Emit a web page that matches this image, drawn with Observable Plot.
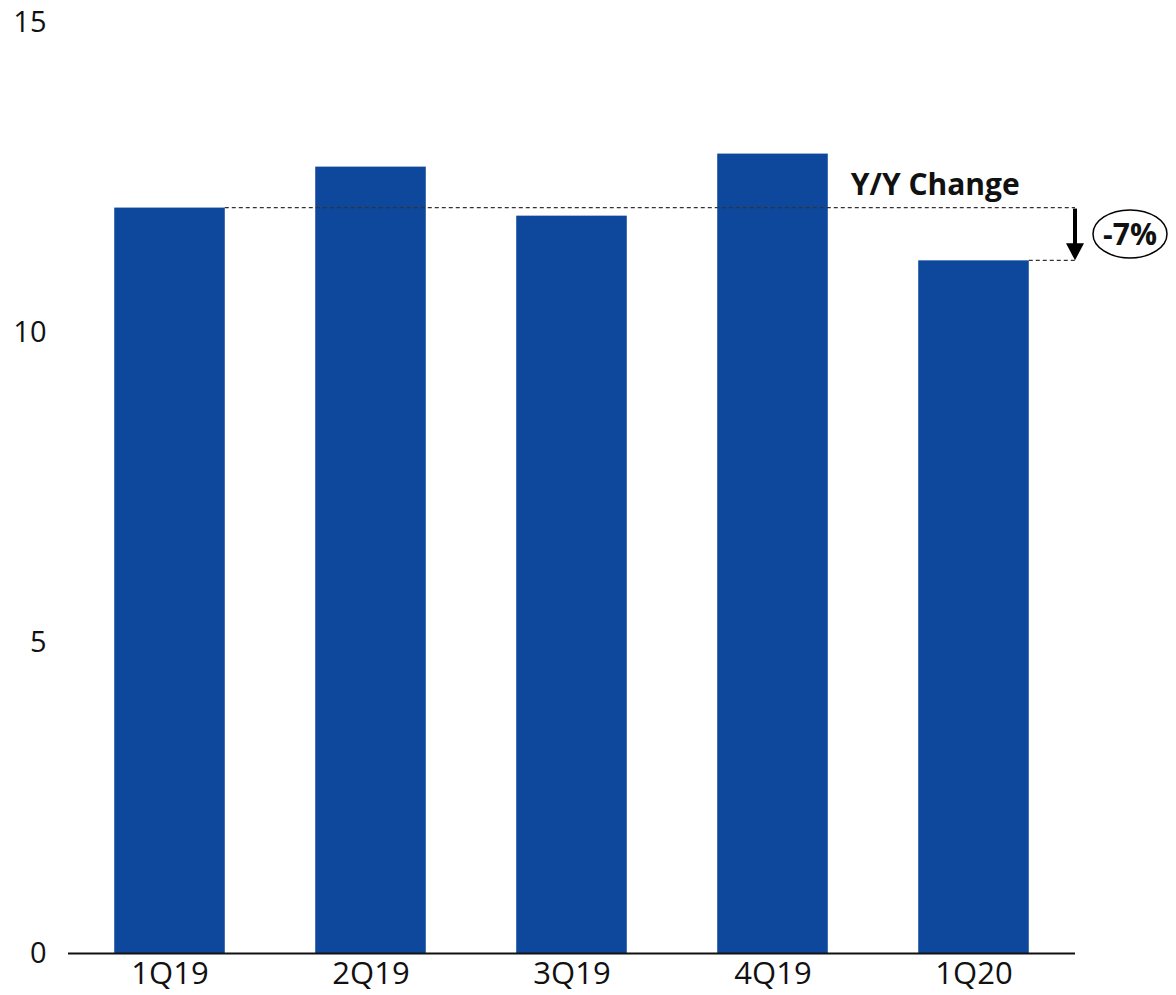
<!DOCTYPE html>
<html><head><meta charset="utf-8">
<script src="https://cdn.jsdelivr.net/npm/d3@7"></script>
<script src="https://cdn.jsdelivr.net/npm/@observablehq/plot@0.6"></script>
<style>body{margin:0;background:#fff}#chart svg{display:block}</style>
</head><body><div id="chart"></div>
<script>
const quarters = ["1Q19", "2Q19", "3Q19", "4Q19", "1Q20"];
const values = [12.01, 12.67, 11.88, 12.88, 11.16];
const yTicks = [0, 5, 10, 15];
const changeLabel = "Y/Y Change";
const changeValue = "-7%";
const data = quarters.map((q, i) => ({q, v: values[i]}));
const FONT = "'Open Sans', 'Noto Sans', sans-serif";

function annotation(index, scales, channels, dims) {
  const sx = scales.x, sy = scales.y;
  const bw = typeof sx.bandwidth === "function" ? sx.bandwidth() : sx.bandwidth;
  const xEnd = dims.width - dims.marginRight;
  const first = data[0], last = data[data.length - 1];
  const y0 = sy(first.v), y1 = sy(last.v);
  const ns = "http://www.w3.org/2000/svg";
  const g = document.createElementNS(ns, "g");
  const mk = (tag, attrs) => { const e = document.createElementNS(ns, tag); for (const k in attrs) e.setAttribute(k, attrs[k]); g.appendChild(e); return e; };
  mk("line", {x1: sx(first.q) + bw, x2: xEnd, y1: y0, y2: y0, stroke: "#333", "stroke-width": 1.2, "stroke-dasharray": "4,3"});
  mk("line", {x1: sx(last.q) + bw, x2: xEnd, y1: y1, y2: y1, stroke: "#333", "stroke-width": 1.2, "stroke-dasharray": "4,3"});
  // arrow
  mk("line", {x1: xEnd, x2: xEnd, y1: y0 + 1, y2: y1 - 15, stroke: "#000", "stroke-width": 4});
  mk("path", {d: `M${xEnd - 9},${y1 - 17} L${xEnd + 9},${y1 - 17} L${xEnd},${y1} Z`, fill: "#000"});
  const t = mk("text", {x: sx(last.q) + bw - 9, y: y0 - 13, "text-anchor": "end", "font-family": FONT, "font-size": 30, "font-weight": 700, fill: "#111"});
  t.textContent = changeLabel;
  const cx = xEnd + 55, cy = (y0 + y1) / 2;
  mk("ellipse", {cx, cy, rx: 37, ry: 24, fill: "none", stroke: "#000", "stroke-width": 1.5});
  const t2 = mk("text", {x: cx, y: cy, "text-anchor": "middle", dy: "0.36em", "font-family": FONT, "font-size": 30, "font-weight": 700, fill: "#111"});
  t2.textContent = changeValue;
  return g;
}

const chart = Plot.plot({
  width: 1176,
  height: 995,
  marginLeft: 68,
  marginRight: 101,
  marginTop: 22,
  marginBottom: 42,
  style: {fontFamily: FONT, fontSize: "29px", color: "#111", background: "#fff", overflow: "visible"},
  x: {domain: quarters, paddingInner: 0.45, paddingOuter: 0.23, round: false, label: null, tickSize: 0, tickPadding: 8},
  y: {domain: [0, 15], ticks: yTicks, label: null, tickSize: 0, tickPadding: 22},
  marks: [
    Plot.barY(data, {x: "q", y: "v", fill: "#0e489c"}),
    Plot.ruleY([0], {stroke: "#111", strokeWidth: 2}),
    Plot.axisX({tickSize: 0, tickPadding: 8, fontSize: 31, label: null}),
    annotation
  ]
});
document.getElementById("chart").appendChild(chart);
</script>
</body></html>
